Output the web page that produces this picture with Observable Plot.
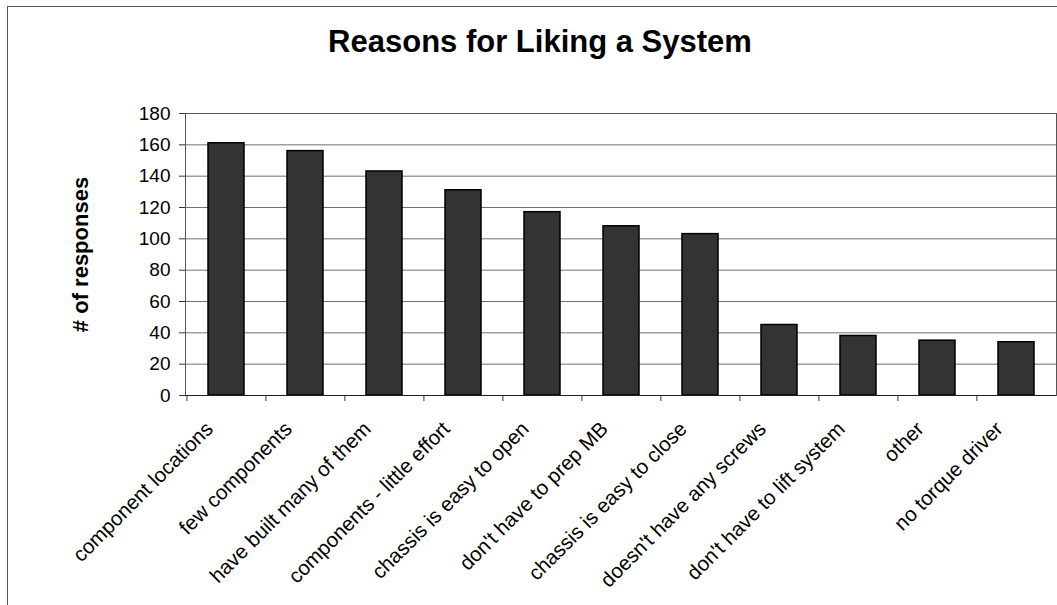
<!DOCTYPE html>
<html>
<head>
<meta charset="utf-8">
<script src="https://cdn.jsdelivr.net/npm/d3@7"></script>
<script src="https://cdn.jsdelivr.net/npm/@observablehq/plot@0.6"></script>
<style>
  html, body { margin: 0; padding: 0; background: #fff; }
  body { width: 1057px; height: 605px; position: relative; overflow: hidden; font-family: "Liberation Sans", Arial, sans-serif; }
  #border { position: absolute; left: 7px; top: 6px; width: 1100px; height: 700px; border-left: 1px solid #555; border-top: 1px solid #555; }
  #title { position: absolute; left: 0; width: 1080px; top: 26px; text-align: center; font-size: 31px; font-weight: bold; color: #000; line-height: 1; }
  #chart { position: absolute; left: 0; top: 70px; }
</style>
</head>
<body>
<div id="border"></div>
<div id="title">Reasons for Liking a System</div>
<div id="chart"></div>
<script>
const categories = [
  "component locations",
  "few components",
  "have built many of them",
  "components - little effort",
  "chassis is easy to open",
  "don't have to prep MB",
  "chassis is easy to close",
  "doesn't have any screws",
  "don't have to lift system",
  "other",
  "no torque driver"
];
const responses = [161, 156, 143, 131, 117, 108, 103, 45, 38, 35, 34];
const yTicks = [0, 20, 40, 60, 80, 100, 120, 140, 160, 180];

const data = categories.map((c, i) => ({category: c, value: responses[i]}));

const width = 1057, height = 535;
const marginLeft = 185, marginRight = 1, marginTop = 43, marginBottom = 210;
const step = (width - marginLeft - marginRight) / categories.length;

const chart = Plot.plot({
  width, height, marginLeft, marginRight, marginTop, marginBottom,
  style: {fontFamily: "'Liberation Sans', Arial, sans-serif", color: "#000", background: "transparent"},
  x: {type: "band", domain: categories, paddingInner: 0.55, paddingOuter: 0.275, label: null},
  y: {domain: [0, 180], label: null},
  marks: [
    Plot.gridY(yTicks, {stroke: "#707070", strokeOpacity: 1}),
    Plot.barY(data, {x: "category", y: "value", fill: "#333", stroke: "#000", strokeWidth: 1.5}),
    Plot.frame({stroke: "#555"}),
    Plot.ruleY([0], {stroke: "#222"}),
    Plot.axisY(yTicks, {tickSize: 6, tickPadding: 9, fontSize: 19, stroke: "#333", label: null}),
    Plot.axisX({tickSize: 6, tickFormat: () => "", dx: -step / 2, stroke: "#333", label: null}),
    Plot.axisX({tickSize: 0, tickRotate: -45, tickPadding: 30, dx: -17, fontSize: 20.5, label: null}),
    Plot.text(["# of responses"], {frameAnchor: "left", dx: -98, rotate: -90, textAnchor: "middle", lineAnchor: "bottom", fontSize: 22, fontWeight: "bold", fill: "#000"})
  ]
});
document.getElementById("chart").appendChild(chart);
</script>
</body>
</html>
